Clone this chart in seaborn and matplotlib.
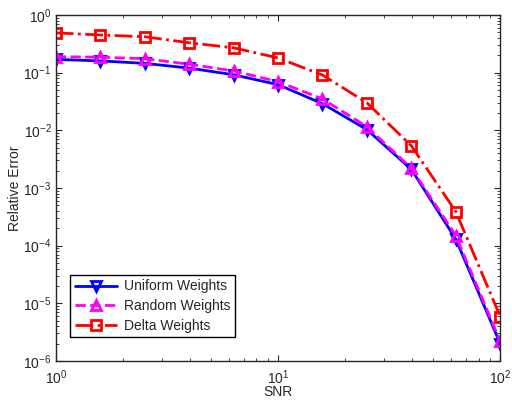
import numpy as np
import pandas as pd
import seaborn as sns
import matplotlib.pyplot as plt
from matplotlib.ticker import NullFormatter

sns.set_style("ticks")
plt.rcParams['font.family'] = ['Liberation Sans', 'DejaVu Sans']
plt.rcParams['mathtext.fontset'] = 'custom'
plt.rcParams['mathtext.rm'] = 'Liberation Sans'

# Data
snr = [1.0, 1.585, 2.512, 3.981, 6.310, 10.0, 15.85, 25.12, 39.81, 63.10, 100.0]
uniform = [0.17, 0.16, 0.145, 0.12, 0.092, 0.062, 0.029, 0.0103, 0.0021, 1.3e-4, 2.0e-6]
random_w = [0.19, 0.185, 0.175, 0.14, 0.107, 0.070, 0.035, 0.0116, 0.0022, 1.5e-4, 2.2e-6]
delta = [0.49, 0.45, 0.42, 0.33, 0.27, 0.18, 0.091, 0.030, 0.0054, 3.9e-4, 5.9e-6]

names = ["Uniform Weights", "Random Weights", "Delta Weights"]
colors = ["#0000ff", "#ff00ff", "#ff0000"]
markers = ["v", "^", "s"]
dashes = ["-", "--", "-."]

df = pd.DataFrame({
    "SNR": snr * 3,
    "err": uniform + random_w + delta,
    "method": [n for n in names for _ in snr],
})

fig = plt.figure(figsize=(5.12, 4.0), dpi=100)
ax = fig.add_axes([0.109, 0.0975, 0.868, 0.865])

for name, c, m, ls in zip(names, colors, markers, dashes):
    sub = df[df["method"] == name]
    sns.lineplot(
        data=sub, x="SNR", y="err", ax=ax,
        color=c, linestyle=ls, linewidth=2,
        marker=m, markersize=7, markerfacecolor="none",
        markeredgecolor=c, markeredgewidth=2, label=name,
    )

ax.set_xscale("log")
ax.set_yscale("log")
ax.set_xlim(1, 100)
ax.set_ylim(1e-6, 1)
ax.xaxis.set_minor_formatter(NullFormatter())
ax.yaxis.set_minor_formatter(NullFormatter())

ax.tick_params(which="both", direction="in", top=True, right=True, labelsize=10)
ax.tick_params(axis="x", which="major", length=4, pad=5)
ax.tick_params(axis="y", which="major", length=4, pad=3)
ax.tick_params(which="minor", length=2)
for s in ax.spines.values():
    s.set_linewidth(1)
ax.grid(False)

ax.set_xlabel("SNR", fontsize=10, labelpad=-1)
ax.set_ylabel("Relative Error", fontsize=10, labelpad=1)

leg = ax.legend(loc="lower left", bbox_to_anchor=(0.033, 0.068), fontsize=10,
                fancybox=False, edgecolor="black", framealpha=1,
                handlelength=3.0, borderpad=0.35, labelspacing=0.4,
                handletextpad=0.5, borderaxespad=0)
leg.get_frame().set_linewidth(1)

plt.savefig("out.png", dpi=100)
